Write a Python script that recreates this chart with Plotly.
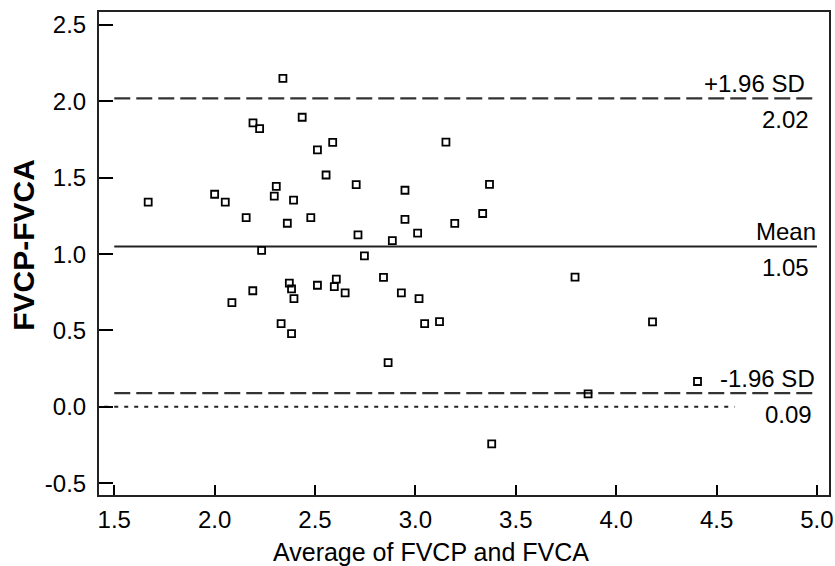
import plotly.graph_objects as go

# Bland-Altman data: average (x) and difference (y)
avg_vals = [1.669, 2.340, 2.000, 2.053, 2.157, 2.191, 2.224, 2.234, 2.307, 2.297,
            2.362, 2.393, 2.436, 2.479, 2.512, 2.588, 2.555, 2.705, 2.714, 2.746,
            2.885, 2.948, 2.948, 3.011, 2.841, 2.606, 3.152, 3.369, 3.335, 3.196,
            3.795, 2.086, 2.190, 2.372, 2.383, 2.395, 2.512, 2.596, 2.650, 2.331,
            2.383, 2.864, 2.930, 3.018, 3.046, 3.120, 4.181, 4.405, 3.860, 3.380]
diff_vals = [1.340, 2.151, 1.392, 1.340, 1.239, 1.859, 1.821, 1.024, 1.444, 1.379,
             1.202, 1.353, 1.896, 1.239, 1.682, 1.732, 1.518, 1.455, 1.126, 0.988,
             1.088, 1.418, 1.228, 1.137, 0.848, 0.836, 1.733, 1.456, 1.266, 1.201,
             0.849, 0.683, 0.760, 0.810, 0.772, 0.708, 0.796, 0.787, 0.746, 0.545,
             0.480, 0.290, 0.746, 0.708, 0.545, 0.558, 0.556, 0.166, 0.085, -0.242]

upper_limit = 2.02
mean_diff = 1.05
lower_limit = 0.09
line_x = [1.5, 5.0]
zero_x = [1.45, 4.59]

x_ticks = [1.5, 2.0, 2.5, 3.0, 3.5, 4.0, 4.5, 5.0]
y_ticks = [-0.5, 0.0, 0.5, 1.0, 1.5, 2.0, 2.5]

FONT = "Liberation Sans, Arial, Helvetica, sans-serif"

fig = go.Figure()

fig.add_trace(go.Scatter(x=zero_x, y=[0, 0], mode="lines",
                         line=dict(color="#222", width=2, dash="4px,6px"),
                         hoverinfo="skip", showlegend=False))
fig.add_trace(go.Scatter(x=line_x, y=[upper_limit] * 2, mode="lines",
                         line=dict(color="#333", width=2.2, dash="16px,6px"),
                         showlegend=False))
fig.add_trace(go.Scatter(x=line_x, y=[lower_limit] * 2, mode="lines",
                         line=dict(color="#333", width=2.2, dash="16px,6px"),
                         showlegend=False))
fig.add_trace(go.Scatter(x=line_x, y=[mean_diff] * 2, mode="lines",
                         line=dict(color="#222", width=2),
                         showlegend=False))
fig.add_trace(go.Scatter(x=avg_vals, y=diff_vals, mode="markers",
                         marker=dict(symbol="square-open", size=7, color="black",
                                     line=dict(width=1.8, color="black")),
                         showlegend=False))

labels_above = [("+1.96 SD", upper_limit, -10), ("Mean", mean_diff, 1), ("-1.96 SD", lower_limit, 0)]
labels_below = [(f"{upper_limit:.2f}", upper_limit, -6), (f"{mean_diff:.2f}", mean_diff, -6),
                (f"{lower_limit:.2f}", lower_limit, -3)]
for txt, yv, xs in labels_above:
    fig.add_annotation(x=line_x[1], y=yv, xref="x", yref="y", text=txt, showarrow=False,
                       xanchor="right", yanchor="bottom", xshift=xs, yshift=-1,
                       font=dict(family=FONT, size=24, color="black"))
for txt, yv, xs in labels_below:
    fig.add_annotation(x=line_x[1], y=yv, xref="x", yref="y", text=txt, showarrow=False,
                       xanchor="right", yanchor="top", xshift=xs, yshift=-6,
                       font=dict(family=FONT, size=24, color="black"))

fig.add_annotation(x=0.455, y=-0.118, xref="paper", yref="paper",
                   text="Average of FVCP and FVCA", showarrow=False,
                   xanchor="center", yanchor="middle",
                   font=dict(family=FONT, size=25, color="black"))
fig.add_annotation(x=-0.103, y=0.5176, xref="paper", yref="paper",
                   text="<b>FVCP-FVCA</b>", showarrow=False, textangle=-90,
                   xanchor="center", yanchor="middle",
                   font=dict(family=FONT, size=30, color="black"))

fig.update_layout(
    width=835, height=566,
    margin=dict(l=99, r=6, t=12, b=71, autoexpand=False),
    plot_bgcolor="white", paper_bgcolor="white",
    font=dict(family=FONT, size=24, color="black"),
    showlegend=False,
)
fig.update_xaxes(range=[1.424, 5.06], tickvals=x_ticks, ticktext=[f"{v:.1f}" for v in x_ticks],
                 ticks="inside", ticklen=10, tickwidth=2, tickcolor="black",
                 showline=True, linewidth=2, linecolor="#222", mirror=True,
                 showgrid=False, zeroline=False, ticklabelstandoff=2, automargin=False,
                 ticklabeloverflow="allow",
                 tickfont=dict(family=FONT, size=24, color="black"))
fig.update_yaxes(range=[-0.577, 2.585], tickvals=y_ticks, ticktext=[f"{v:.1f}" for v in y_ticks],
                 ticks="inside", ticklen=14, tickwidth=2, tickcolor="black",
                 showline=True, linewidth=2, linecolor="#222", mirror=True,
                 showgrid=False, zeroline=False, ticklabelstandoff=6, automargin=False,
                 ticklabeloverflow="allow",
                 tickfont=dict(family=FONT, size=24, color="black"))

fig.write_html("out.html")
